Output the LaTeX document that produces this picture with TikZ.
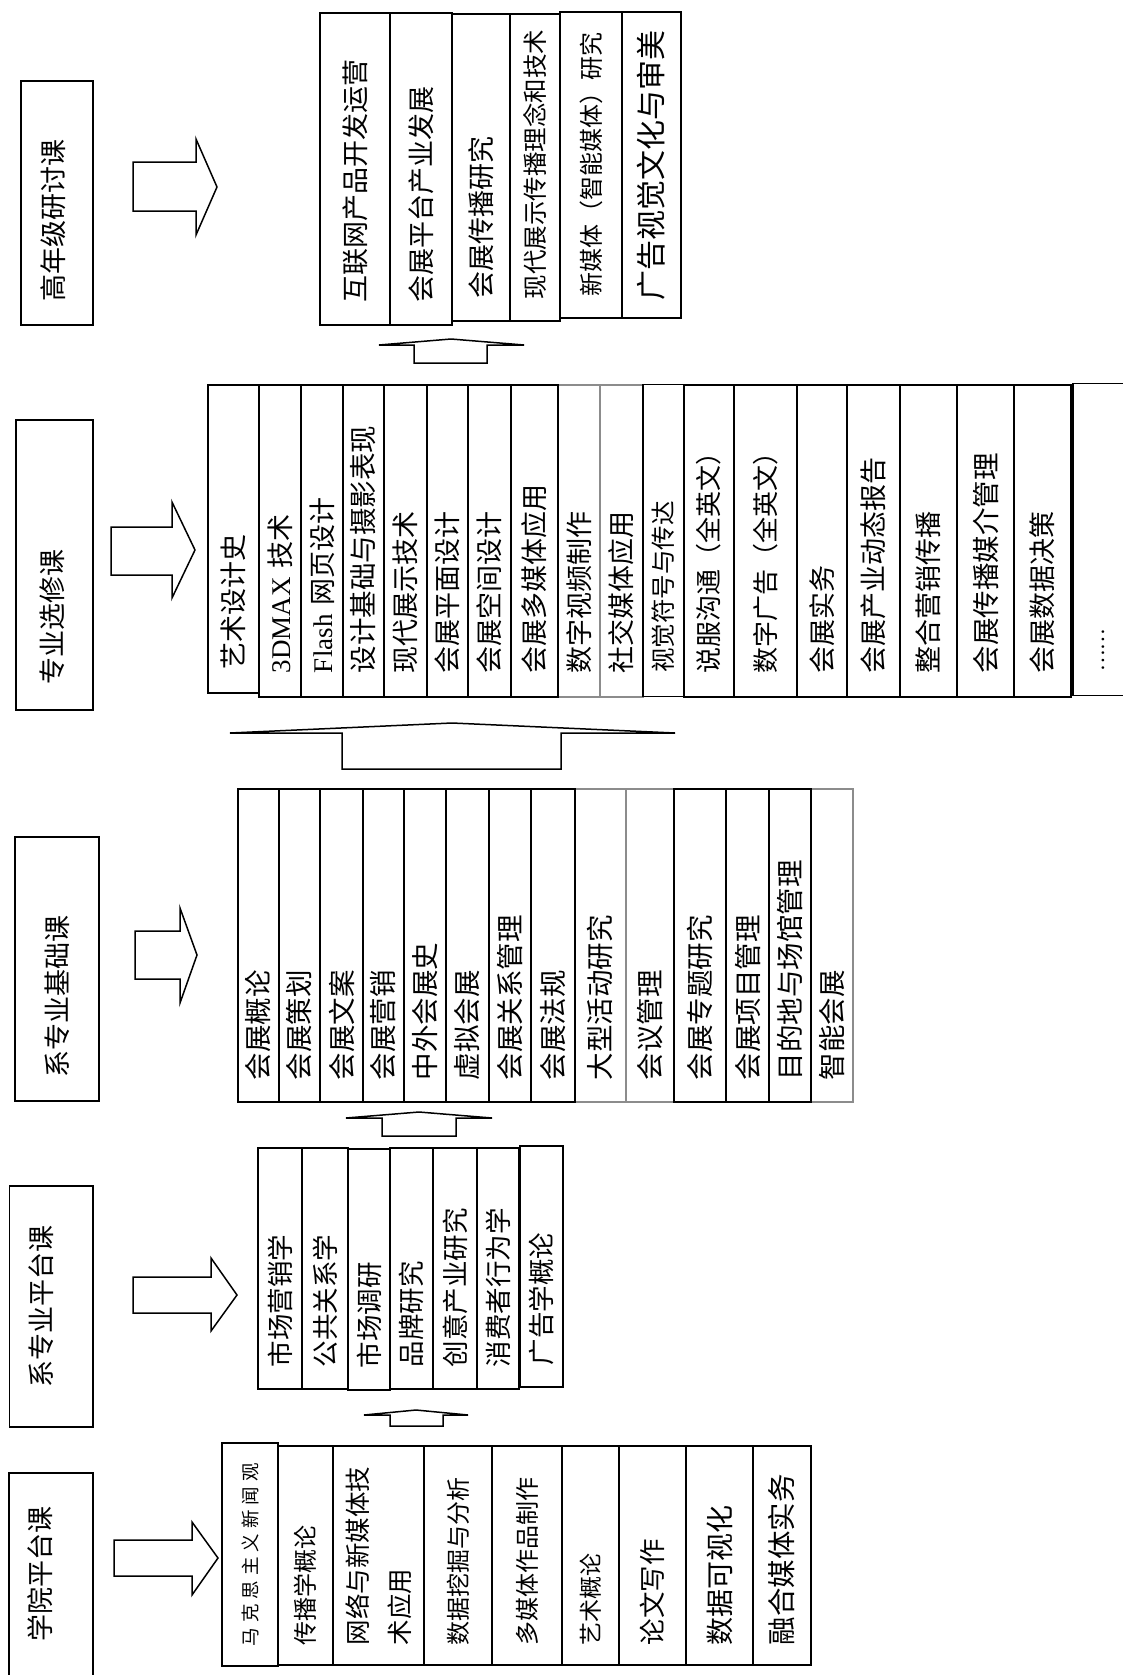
\documentclass[tikz,border=0pt]{standalone}
\usepackage{fontspec}
\setmainfont{Liberation Serif}
\newfontfamily\cjk{Noto Sans CJK SC}
\newcommand{\csize}[1]{\fontsize{#1}{#1}\selectfont}
\newcommand{\gapk}{\kern5pt}

\begin{document}
\begin{tikzpicture}[
    x=1pt, y=-1pt,
    % Define Node Styles
    course/.style={draw, line width=1.6pt, rotate=90, align=left, inner ysep=0pt, font=\cjk\csize{27}},
    faint/.style={draw=black!45, line width=1.2pt},
    rowA/.style={course, minimum width=219pt, inner xsep=20pt, text width=179pt, font=\cjk\csize{24}},
    rowB/.style={course, minimum width=241pt, inner xsep=22pt, text width=197pt, font=\cjk\csize{26.5}},
    rowC/.style={course, minimum width=313pt, inner xsep=22pt, text width=269pt, font=\cjk\csize{27.5}},
    rowD/.style={course, minimum width=312pt, inner xsep=24pt, text width=264pt},
    rowE/.style={course, minimum width=312pt, inner xsep=23pt, text width=266pt},
    level/.style={draw, line width=1.6pt, rotate=90, inner sep=0pt},
    leveltext/.style={rotate=90, inner sep=0pt, font=\cjk\csize{27}},
    blockarrow/.style={draw, line width=1.5pt, line join=miter}
    ]
    \useasboundingbox (0,0) rectangle (1123,1675);
    \clip (0,0) rectangle (1123,1675);

    % Level boxes
    \node[level, minimum width=207pt, minimum height=84pt] (L1) at (51,1576.5) {};
    \node[leveltext] (L1t) at (40.5,1573.5) {学院平台课};
    \node[level, minimum width=241pt, minimum height=83.5pt] (L2) at (51.3,1306.5) {};
    \node[leveltext] (L2t) at (41,1306.5) {系专业平台课};
    \node[level, minimum width=264pt, minimum height=84pt] (L3) at (57,969) {};
    \node[leveltext] (L3t) at (57,996) {系专业基础课};
    \node[level, minimum width=290pt, minimum height=77pt] (L4) at (54.5,565) {};
    \node[leveltext] (L4t) at (52,616.5) {专业选修课};
    \node[level, minimum width=244pt, minimum height=72pt] (L5) at (57,203) {};
    \node[leveltext] (L5t) at (53.6,220) {高年级研讨课};

    % Right arrows
    \draw[blockarrow] (114,1540) -- (192,1540) -- (192,1522) -- (218,1558) -- (192,1595) -- (192,1576) -- (114,1576) -- cycle;
    \draw[blockarrow] (133,1277) -- (211,1277) -- (211,1258) -- (237,1295) -- (211,1331) -- (211,1313) -- (133,1313) -- cycle;
    \draw[blockarrow] (135,931) -- (180,931) -- (180,908) -- (197,955) -- (180,1003) -- (180,979) -- (135,979) -- cycle;
    \draw[blockarrow] (111,527) -- (172,527) -- (172,502) -- (195,550) -- (172,598) -- (172,575) -- (111,575) -- cycle;
    \draw[blockarrow] (133,162) -- (196,162) -- (196,139) -- (217,187) -- (196,235) -- (196,211) -- (133,211) -- cycle;

    % Up arrows
    \draw[blockarrow] (390,1426) -- (390,1415) -- (364,1415) -- (416,1410) -- (468,1415) -- (443,1415) -- (443,1426) -- cycle;
    \draw[blockarrow] (382,1136) -- (382,1118) -- (346,1118) -- (419,1112) -- (492,1118) -- (456,1118) -- (456,1136) -- cycle;
    \draw[blockarrow] (342,769) -- (342,733) -- (230,733) -- (452,723) -- (675,733) -- (561,733) -- (561,769) -- cycle;
    \draw[blockarrow] (414,363) -- (414,345) -- (379,345) -- (451,339) -- (524,345) -- (487,345) -- (487,363) -- cycle;

    % College platform courses
    \node[rowA, minimum width=223pt, text width=183pt, minimum height=56pt, font=\cjk\csize{18.5}] (a1) at (250,1554.5) {马\gapk 克\gapk 思\gapk 主\gapk 义\gapk 新\gapk 闻\gapk 观};
    \node[rowA, minimum height=55pt] (a2) at (305.5,1555.5) {传播学概论};
    \node[rowA, minimum height=91pt, font=\cjk\csize{25.5}] (a3) at (378.5,1555.5) {网络与新媒体技\\[16pt]术应用};
    \node[rowA, minimum height=68pt] (a4) at (458,1555.5) {数据挖掘与分析};
    \node[rowA, minimum height=70pt] (a5) at (527,1555.5) {多媒体作品制作};
    \node[rowA, minimum height=57pt, font=\cjk\csize{23}] (a6) at (590.5,1555.5) {艺术概论};
    \node[rowA, minimum height=67pt, font=\cjk\csize{26.5}] (a7) at (652.5,1555.5) {论文写作};
    \node[rowA, minimum height=67pt, font=\cjk\csize{28}] (a8) at (719.5,1555.5) {数据可视化};
    \node[rowA, minimum height=58pt, font=\cjk\csize{28.5}] (a9) at (782,1555.5) {融合媒体实务};

    % Department platform courses
    \node[rowB, minimum height=44pt] (b1) at (280,1268.5) {市场营销学};
    \node[rowB, minimum height=46pt] (b2) at (325,1268.5) {公共关系学};
    \node[rowB, minimum height=43pt] (b4) at (411.5,1268.5) {品牌研究};
    \node[rowB, minimum height=44pt] (b5) at (455,1268.5) {创意产业研究};
    \node[rowB, minimum height=42pt] (b6) at (498,1268.5) {消费者行为学};
    \node[rowB, minimum height=42pt] (b3) at (369,1269.5) {市场调研};
    \node[rowB, minimum height=43pt] (b7) at (541.5,1266.5) {广告学概论};

    % Department foundation courses
    \node[rowC, faint, minimum height=51pt] (c9) at (600.5,945.5) {大型活动研究};
    \node[rowC, faint, minimum height=48pt] (c10) at (650,945.5) {会议管理};
    \node[rowC, faint, minimum height=42pt] (c14) at (832,945.5) {智能会展};
    \node[rowC, minimum height=41pt] (c1) at (258.5,945.5) {会展概论};
    \node[rowC, minimum height=41pt] (c2) at (299.5,945.5) {会展策划};
    \node[rowC, minimum height=43pt] (c3) at (341.5,945.5) {会展文案};
    \node[rowC, minimum height=41pt] (c4) at (383.5,945.5) {会展营销};
    \node[rowC, minimum height=42pt] (c5) at (425,945.5) {中外会展史};
    \node[rowC, minimum height=43pt] (c6) at (467.5,945.5) {虚拟会展};
    \node[rowC, minimum height=42pt] (c7) at (510,945.5) {会展关系管理};
    \node[rowC, minimum height=44pt] (c8) at (553,945.5) {会展法规};
    \node[rowC, minimum height=52pt] (c11) at (700,945.5) {会展专题研究};
    \node[rowC, minimum height=43pt] (c12) at (747.5,945.5) {会展项目管理};
    \node[rowC, minimum height=42pt] (c13) at (790,945.5) {目的地与场馆管理};

    % Elective courses
    \node[rowD, faint, minimum height=42pt] (d9) at (579,541) {数字视频制作};
    \node[rowD, faint, minimum height=43pt] (d10) at (621.5,541) {社交媒体应用};
    \node[rowD, minimum width=308pt, text width=260pt, minimum height=51pt] (d1) at (233.5,539) {艺术设计史};
    \node[rowD, minimum height=42pt] (d2) at (280,541) {{\rmfamily 3DMAX} 技术};
    \node[rowD, minimum height=42pt] (d3) at (322,541) {{\rmfamily Flash} 网页设计};
    \node[rowD, minimum height=41pt, font=\cjk\csize{27.5}] (d4) at (363.5,541) {设计基础与摄影表现};
    \node[rowD, minimum height=43pt] (d5) at (405.5,541) {现代展示技术};
    \node[rowD, minimum height=41pt] (d6) at (447.5,541) {会展平面设计};
    \node[rowD, minimum height=43pt] (d7) at (489.5,541) {会展空间设计};
    \node[rowD, minimum height=47pt] (d8) at (534.5,541) {会展多媒体应用};
    \node[rowD, minimum height=41pt, font=\cjk\csize{24.5}] (d11) at (663.5,540.5) {视觉符号与传达};
    \node[rowD, minimum height=50pt, font=\cjk\csize{26}] (d12) at (709,541) {说服沟通（全英文）};
    \node[rowD, minimum height=63pt, font=\cjk\csize{26}] (d13) at (765.5,541) {数字广告（全英文）};
    \node[rowD, minimum height=50pt] (d14) at (822,541) {会展实务};
    \node[rowD, minimum height=53pt] (d15) at (873.5,541) {会展产业动态报告};
    \node[rowD, minimum height=57pt] (d16) at (928.5,541) {整合营销传播};
    \node[rowD, minimum height=57pt, font=\cjk\csize{27.5}] (d17) at (985.5,541) {会展传播媒介管理};
    \node[rowD, minimum height=57pt] (d18) at (1042.5,541) {会展数据决策};
    \node[rowD, minimum height=60pt, font=\cjk\csize{20}] (d19) at (1103,539.5) {……};

    % Senior seminar courses
    \node[rowE, minimum height=70pt] (e1) at (355,169) {互联网产品开发运营};
    \node[rowE, minimum height=62pt] (e2) at (421,169) {会展平台产业发展};
    \node[rowE, minimum width=307pt, text width=261pt, minimum height=58pt] (e3) at (481,167.5) {会展传播研究};
    \node[rowE, minimum width=307pt, text width=263pt, inner xsep=22pt, minimum height=50pt, font=\cjk\csize{24.5}] (e4) at (535,167.5) {现代展示传播理念和技术};
    \node[rowE, minimum width=306pt, text width=262pt, inner xsep=22pt, minimum height=62pt, font=\cjk\csize{24}] (e5) at (591,165) {新媒体（智能媒体）研究};
    \node[rowE, minimum width=306pt, text width=270pt, inner xsep=18pt, minimum height=59pt, font=\cjk\csize{30}] (e6) at (651.5,165) {广告视觉文化与审美};

\end{tikzpicture}
\end{document}
